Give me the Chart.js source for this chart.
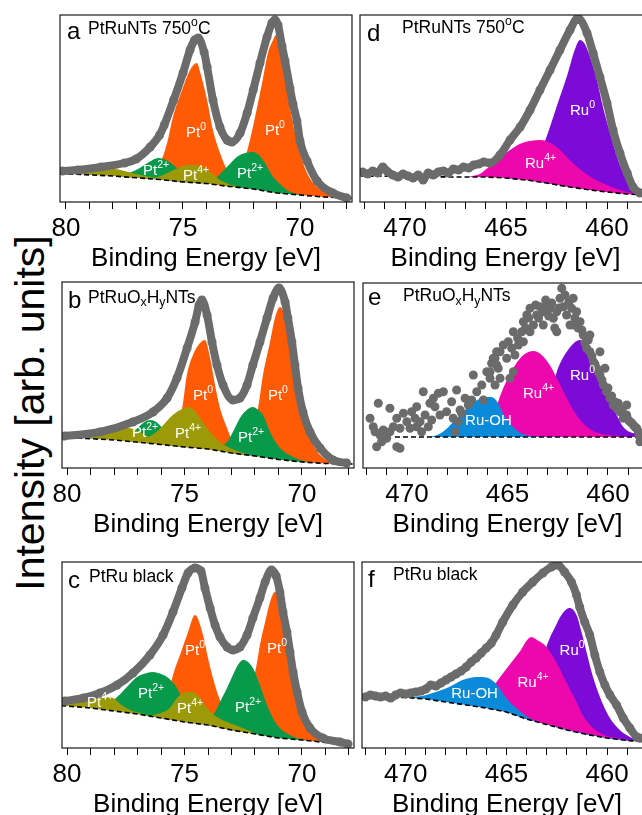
<!DOCTYPE html>
<html>
<head>
<meta charset="utf-8">
<script src="https://cdn.jsdelivr.net/npm/chart.js@4.4.1/dist/chart.umd.min.js"></script>
<style>
html, body { margin: 0; padding: 0; background: #fff; width: 642px; height: 815px; overflow: hidden; }
body { position: relative; }
canvas.panel { position: absolute; }
#ylab {
    position: absolute; left: 30px; top: 413px;
    transform: translate(-50%, -50%) rotate(-90deg);
    font: 41px "Liberation Sans", Arial, sans-serif; line-height: 1; white-space: nowrap; color: #000;
}
</style>
</head>
<body>
<div id="ylab">Intensity [arb. units]</div>
<canvas id="pa" class="panel"></canvas>
<canvas id="pb" class="panel"></canvas>
<canvas id="pc" class="panel"></canvas>
<canvas id="pd" class="panel"></canvas>
<canvas id="pe" class="panel"></canvas>
<canvas id="pf" class="panel"></canvas>
<script>
// ---- Pt 4f panels (binding energy eV, intensity) ----
const aEnv = [[80.15,31],[79.5,32],[78.5,35],[77.5,39],[77,43],[76.4,55],[76,67],[75.8,77],[75.4,102],[75,129],[74.7,152],[74.5,162],[74.35,164],[74.1,150],[73.97,135],[73.72,102],[73.42,75],[73.12,62],[72.91,60],[72.56,69],[72.26,89],[72.0,112],[71.71,139],[71.41,165],[71.2,179],[71.07,182],[70.94,177],[70.77,156],[70.64,141],[70.43,114],[70.3,98],[70.13,81],[70.0,61],[69.7,41],[69.27,21],[68.6,9],[68.0,4]];
const aBase = [[80.25,28.5],[78,26],[76,22.5],[75,20],[74,18.5],[73,15.5],[72,13],[71,9],[70,7],[69,5],[67.8,4]];
const aPt0a = [[77.5,26],[76.5,30],[76.0,38],[75.68,59],[75.43,85],[75.04,112],[74.7,132],[74.4,139],[74.27,130],[73.97,102],[73.72,72],[73.42,49],[73.12,32],[72.86,22],[72.4,16]];
const aPt0b = [[72.9,17],[72.5,32],[72.14,62],[71.92,85],[71.62,119],[71.37,149],[71.15,162],[71.03,167],[70.85,152],[70.64,125],[70.43,95],[70.21,69],[70.0,49],[69.7,29],[69.27,15],[68.6,7],[68.0,5]];
const aPt2a = [[77.6,27],[77.2,30],[76.85,34],[76.45,40],[76.05,44],[75.65,41],[75.25,34],[74.85,27],[74.4,22],[74.0,20]];
const aPt2b = [[73.8,19],[73.55,25],[73.12,35],[72.7,45],[72.35,49],[72.05,50],[71.8,48],[71.58,42],[71.3,31],[71.15,25],[70.85,18],[70.56,12],[70.2,8.5],[69.8,7]];
const aPt4a = [[80.2,31],[79.5,32],[79,33],[78.5,34],[78,33.5],[77.5,31],[77,28],[76.5,25.5],[76,23.5]];
const aPt4b = [[76.2,24],[75.8,27.5],[75.4,32],[75.0,36],[74.6,37],[74.27,36.5],[73.9,31],[73.42,22],[73.0,17.5],[72.6,15]];
const aLabels = [[74.87,65,'Pt','0'],[71.5,67,'Pt','0'],[76.71,27,'Pt','2+'],[75.0,22,'Pt','4+'],[72.69,24,'Pt','2+']];

const bEnv = [[80.1,32],[78.6,36],[77.2,46],[76.34,56],[75.74,70],[75.32,90],[74.89,120],[74.55,146],[74.38,163],[74.26,168],[74.04,153],[73.83,126],[73.62,103],[73.36,83],[72.94,68],[72.64,70],[72.34,83],[72.09,103],[71.79,126],[71.49,150],[71.23,170],[70.98,180],[70.72,166],[70.6,150],[70.43,126],[70.3,103],[70.17,80],[69.96,56],[69.66,36],[69.23,20],[68.68,8],[68.1,5]];
const bBase = [[80.25,31],[78,28],[76,23.5],[75,21],[74,19],[73,15],[72,12],[71,8.5],[70,6],[69,4.5],[67.8,4]];
const bPt0a = [[76.3,25],[75.6,35],[75.1,60],[74.9,93],[74.64,113],[74.34,125],[74.13,128],[73.91,110],[73.7,83],[73.49,60],[73.19,40],[72.94,26],[72.5,16],[72.1,12.5]];
const bPt0b = [[73.0,15.5],[72.5,24],[72.1,42],[71.87,60],[71.66,93],[71.36,126],[71.15,150],[70.94,161],[70.64,146],[70.43,116],[70.21,86],[70.0,60],[69.79,40],[69.45,20],[68.94,8],[68.26,5]];
const bPt2a = [[77.6,28],[77.3,33],[77.0,40],[76.7,46],[76.45,48],[76.2,46],[75.9,39],[75.6,31],[75.3,25],[75.0,22]];
const bPt2b = [[73.6,18],[73.19,26],[72.94,36],[72.64,50],[72.35,58],[72.09,61],[71.85,58],[71.66,53],[71.36,36],[71.15,27],[70.94,20],[70.38,11],[69.8,6.5],[69.3,5.2]];
const bPt4a = [[80.2,31.5],[79.5,33],[78.6,36],[77.9,39],[77.4,40],[77,37],[76.5,31],[76,26],[75.5,23]];
const bPt4b = [[76.8,27],[76.2,36],[75.9,43],[75.5,53],[75.1,59],[74.85,61],[74.6,58],[74.34,50],[73.9,36],[73.5,26],[73.06,20],[72.64,16],[72.2,13]];
const bLabels = [[74.64,68,'Pt','0'],[71.45,68,'Pt','0'],[77.23,31,'Pt','2+'],[75.4,30,'Pt','4+'],[72.72,26,'Pt','2+']];

const cEnv = [[80.1,47],[79.3,50],[78.6,55],[77.87,63],[77.19,75],[76.47,93],[75.91,113],[75.49,136],[75.11,160],[74.85,175],[74.55,180],[74.3,177],[74.13,160],[73.91,140],[73.7,123],[73.49,111],[73.19,101],[72.94,98],[72.64,101],[72.34,113],[72.09,130],[71.79,150],[71.57,166],[71.3,178],[71.1,172],[70.94,156],[70.81,136],[70.64,116],[70.51,96],[70.38,76],[70.21,56],[70.0,36],[69.66,20],[69.11,10],[68.38,6],[68.04,4]];
const cBase = [[80.25,42.5],[79,40],[78,37],[77,34],[76,30],[75,26],[74,23],[73,18],[72,14],[71,10],[70,8],[69,5.5],[67.8,4]];
const cPt0a = [[76.6,33],[76.0,40],[75.7,52],[75.49,73],[75.19,93],[74.89,113],[74.55,133],[74.21,113],[74.0,90],[73.79,70],[73.57,53],[73.28,36],[72.94,26],[72.5,19],[72,15]];
const cPt0b = [[73.2,19.5],[72.6,28],[72.2,55],[71.91,86],[71.79,103],[71.57,126],[71.36,146],[71.15,156],[70.94,146],[70.81,130],[70.6,103],[70.38,76],[70.17,53],[69.87,33],[69.53,18],[68.94,10],[68.26,6]];
const cPt2a = [[79.0,40.5],[78.6,42],[78.2,45],[77.87,51],[77.45,61],[77.02,71],[76.6,75],[76.34,76],[76.0,74],[75.74,71],[75.32,60],[75.0,45],[74.6,34],[74.2,27],[73.8,24]];
const cPt2b = [[74.1,25],[73.7,36],[73.49,46],[73.19,60],[72.94,73],[72.7,84],[72.51,88],[72.3,86],[72.09,80],[71.79,63],[71.49,43],[71.06,23],[70.51,13],[69.79,8],[69.2,6.5]];
const cPt4a = [[80.2,44],[79.8,46],[79.32,48],[78.9,50],[78.47,51],[78.04,50],[77.74,44],[77.32,38],[76.89,35],[76.4,32],[76,30.5]];
const cPt4b = [[76.4,32.5],[76.0,35],[75.62,40],[75.32,50],[75.05,55],[74.77,56],[74.5,54],[74.34,50],[74.04,40],[73.62,31],[73.19,26],[72.64,21],[72.1,16]];
const cLabels = [[79.15,41,'Pt','4+'],[76.98,50,'Pt','2+'],[74.98,93,'Pt','0'],[75.32,35,'Pt','4+'],[72.85,36,'Pt','2+'],[71.49,95,'Pt','0']];

// ---- Ru 3p panels ----
const dEnv = [[472.1,30],[471.85,28],[471.6,31],[471.35,29],[471.1,35],[470.85,30],[470.6,27],[470.35,25],[470.1,28],[469.85,26],[469.6,24],[469.35,27],[469.1,22],[468.85,29],[468.6,27],[468.35,30],[468.1,31],[467.85,29],[467.6,33],[467.35,32],[467.1,35],[466.85,34],[466.6,37],[466.35,38],[466.1,40],[465.79,39],[465.3,47],[464.8,62],[464.3,75],[463.81,92],[463.32,112],[462.82,132],[462.33,152],[461.83,172],[461.44,184],[460.99,169],[460.69,149],[460.35,125],[460.0,99],[459.7,72],[459.36,49],[459.0,29],[458.71,15],[458.37,9]];
const dBase = [[472.2,26],[467.5,25],[466,25],[465,24],[464,22],[463,19],[462,15.5],[461,12.5],[460,10],[459,8],[457.8,6.5]];
const dRu0 = [[465.0,24.5],[464.3,30],[463.7,40],[463.3,50],[463.05,62],[462.5,95],[461.95,128],[461.6,152],[461.34,162],[461.1,158],[460.84,145],[460.5,122],[460.2,95],[459.85,69],[459.5,45],[459.2,29],[458.86,15],[458.5,10],[458.2,8]];
const dRu4 = [[466.8,25.5],[466.3,28],[465.8,36],[465.3,44],[464.8,52],[464.2,59],[463.3,62],[462.5,55],[461.7,39],[460.8,25],[460,17],[459.2,11],[458.4,8]];
const dLabels = [[461.83,87,'Ru','0'],[464.06,34,'Ru','4+']];

const eDots = [[471.84,49.7],[471.68,41.3],[471.59,36.3],[471.51,21.3],[471.43,64.7],[471.34,33],[471.26,26.3],[471.18,38],[471.01,29.7],[470.85,36.3],[470.85,59.7],[470.68,41.3],[470.51,21.3],[470.51,49.7],[470.35,19.7],[470.35,39.7],[470.18,54.7],[470.01,46.3],[469.85,39.7],[469.77,56.3],[469.6,49.7],[469.52,41.3],[469.52,61.3],[469.35,46.3],[469.27,36.3],[469.19,76.3],[469.1,53],[468.94,41.3],[468.86,64.7],[468.77,48],[468.69,69.7],[468.61,61.3],[468.44,74.7],[468.36,53],[468.19,76.3],[468.03,56.3],[467.78,66.3],[467.7,49.7],[467.61,36.3],[467.53,78],[467.45,46.3],[467.36,58],[467.28,54.7],[467.11,69.7],[466.95,63],[466.78,68],[466.7,93],[466.53,76.3],[466.28,83],[466.2,68],[466.03,96.3],[465.87,89.7],[465.87,96.3],[465.79,104.7],[465.71,109.7],[465.62,109.7],[465.62,83],[465.54,116.3],[465.54,103],[465.46,99.7],[465.37,116.3],[465.37,89.7],[465.21,123],[465.04,109.7],[464.96,126.3],[464.88,89.7],[464.79,119.7],[464.71,96.3],[464.71,136.3],[464.63,113],[464.5,130],[464.46,123],[464.29,136.3],[464.21,146.3],[464.21,126.3],[464.1,140],[464.04,153],[463.95,150],[463.88,159.7],[463.88,136.3],[463.71,143],[463.6,163],[463.55,153],[463.45,150],[463.38,161.3],[463.22,156.3],[463.22,143],[463.1,168],[463.05,163],[462.95,152],[462.89,159.7],[462.8,165],[462.72,149.7],[462.65,140],[462.55,156.3],[462.55,136.3],[462.45,160],[462.39,169.7],[462.3,179.7],[462.22,161.3],[462.14,173],[462.06,153],[461.95,166],[461.89,143],[461.81,159.7],[461.73,169.7],[461.73,143],[461.65,150],[461.56,156.3],[461.48,140],[461.39,146.3],[461.3,138],[461.23,133],[461.15,125],[461.06,119.7],[460.98,128],[460.9,116.3],[460.9,133],[460.8,112],[460.73,106.3],[460.65,104],[460.56,99.7],[460.48,96],[460.4,93],[460.4,116.3],[460.3,88],[460.23,83],[460.15,99.7],[460.07,76.3],[460.0,80],[459.9,69.7],[459.82,72],[459.74,63],[459.65,66],[459.57,59.7],[459.49,64.7],[459.4,56.3],[459.3,58],[459.24,49.7],[459.15,52],[459.07,53],[459.07,63],[458.98,48],[458.91,46.3],[458.82,45],[458.74,43],[458.65,41],[458.57,39.7],[458.49,36.3],[458.45,32],[458.41,26.3]];
const eBase = [[470.6,31],[457.8,31]];
const eRu0 = [[464.2,31.5],[463.6,36],[463.1,55],[462.8,76],[462.55,96],[462.3,108],[462.06,116],[461.64,126],[461.39,128],[461.06,121],[460.73,103],[460.4,86],[460.07,73],[459.74,60],[459.49,50],[459.24,41],[458.91,36],[458.41,34],[458.0,32.5]];
const eRu4 = [[466.6,32],[466.1,38],[465.6,58],[465.4,70],[465.21,80],[464.71,100],[464.21,113],[463.71,117],[463.3,113],[462.9,103],[462.5,88],[462.1,72],[461.7,57],[461.3,46],[460.9,39],[460.5,35],[460,33],[459.5,32],[459,31.5],[458.0,31.2]];
const eRuOH = [[468.9,31.2],[468.5,33],[468.1,38],[467.7,46],[467.3,54],[466.9,62],[466.5,68],[466.1,71],[465.8,71],[465.5,66],[465.2,54],[464.9,45],[464.5,37],[464.1,33],[463.6,31.5],[462,31.1]];
const eLabels = [[467.11,43,'Ru-OH',''],[464.23,70,'Ru','4+'],[461.89,88,'Ru','0']];

const fEnv = [[472.0,51],[471.75,53],[471.5,52],[471.25,51],[471.0,52],[470.75,50],[470.5,53],[470.25,55],[470.0,54],[469.75,55],[469.5,56],[469.25,57],[469.0,59],[468.75,63],[468.5,62],[468.25,65],[468.0,68],[467.75,71],[467.5,74],[467.25,77],[467.0,81],[466.75,86],[466.5,90],[466.25,95],[466.0,100],[465.75,105],[465.51,113],[465.18,126],[464.68,143],[464.19,156],[463.69,166],[463.19,175],[462.77,181],[462.44,183],[462.11,176],[461.77,166],[461.52,153],[461.36,141],[461.11,126],[460.86,113],[460.61,93],[460.36,76],[460.11,63],[459.86,53],[459.53,43],[459.2,30],[458.87,20],[458.53,11],[458.37,10]];
const fBase = [[472.2,52],[471,51],[470,50.5],[469,49],[468,46],[467,43],[466,40],[465,36],[464,29],[463,23.5],[462,18],[461,13.5],[460,10],[459,7.5],[457.8,5.5]];
const fRu0 = [[464.8,34.5],[464.2,38],[463.7,52],[463.4,70],[463.03,100],[462.53,123],[462.2,135],[461.86,140],[461.52,133],[461.27,116],[461.02,96],[460.77,76],[460.52,60],[460.19,43],[459.86,30],[459.37,18],[458.87,11],[458.45,8],[458.0,6.5]];
const fRu4 = [[467.0,43.5],[466.6,46],[466.2,50],[465.8,57],[465.35,70],[464.85,83],[464.35,96],[463.77,111],[463.4,107],[463.1,103],[462.53,86],[462.03,66],[461.52,46],[461.19,32],[460.8,22],[460.52,17],[460,12],[459.2,9],[458.4,6.5]];
const fRuOH = [[469.8,50.5],[469.2,52],[468.67,55],[467.84,61],[467.18,68],[466.7,70.5],[466.35,71],[466.0,70.5],[465.6,66],[465.35,60],[465.01,50],[464.52,40],[463.85,30],[463.19,24.5],[462.5,21.5],[461.5,16.2],[460.5,12.3],[459.5,9.2],[458.0,6.1]];
const fLabels = [[467.74,50,'Ru-OH',''],[464.45,61,'Ru','4+'],[462.36,93,'Ru','0']];

// ---- layout ----
const FONT = '"Liberation Sans", Arial, sans-serif';
const PAD = 30;
const AXIS_H = 72;
const GRAY = '#6b6b6b';
const ORANGE = '#ff5a05', GREEN = '#08994a', OLIVE = '#9c9a08';
const PURPLE = '#7c0bd8', MAGENTA = '#ec08ad', BLUE = '#0a8ad8';

Chart.defaults.font.family = FONT;

const pts = arr => arr.map(([x, y]) => ({x, y}));

function drawRich(ctx, x, y, parts, size, color) {
    ctx.fillStyle = color;
    ctx.textAlign = 'left';
    ctx.textBaseline = 'alphabetic';
    for (const [text, mode] of parts) {
        let s = size, dy = 0;
        if (mode === 'sup') { s = size * 0.7; dy = -size * 0.45; }
        if (mode === 'sub') { s = size * 0.7; dy = size * 0.2; }
        ctx.font = s + 'px ' + FONT;
        ctx.fillText(text, x, y + dy);
        x += ctx.measureText(text).width;
    }
}

const decor = {
    id: 'decor',
    afterDatasetsDraw(chart, args, opts) {
        const {ctx, chartArea: a, scales: {x, y}} = chart;
        ctx.save();
        ctx.strokeStyle = '#1a1a1a';
        ctx.lineWidth = 1.2;
        ctx.strokeRect(a.left, a.top, a.right - a.left, a.bottom - a.top);
        drawRich(ctx, a.left + opts.head.letterAt[0], a.top + opts.head.letterAt[1], [[opts.head.letter, '']], 24, '#000');
        drawRich(ctx, a.left + opts.head.titleAt[0], a.top + opts.head.titleAt[1], opts.head.title, 17.5, '#000');
        for (const [ev, h, base, sup] of opts.labels) {
            drawRich(ctx, x.getPixelForValue(ev), y.getPixelForValue(h), [[base, ''], [sup, 'sup']], 15, '#fff');
        }
        ctx.restore();
    }
};

function panel(id, frame, xLeft, xRight, yMax, env, base, peaks, labels, head, scatter) {
    const cv = document.getElementById(id);
    cv.width = frame.right - frame.left + 2 * PAD;
    cv.height = frame.bottom - frame.top + PAD + AXIS_H;
    cv.style.left = (frame.left - PAD) + 'px';
    cv.style.top = (frame.top - PAD) + 'px';

    const datasets = [
        {data: pts(env), order: 0, borderColor: GRAY, backgroundColor: GRAY, borderWidth: 8,
         showLine: !scatter, pointRadius: 4.5, pointBorderWidth: 0, fill: false,
         cubicInterpolationMode: 'monotone'},
        {data: pts(base), order: 1, borderColor: '#000', borderWidth: 1.6, borderDash: [5, 3],
         pointRadius: 0, fill: false}
    ];
    peaks.forEach((p, i) => {
        datasets.push({data: pts(p[0]), order: 2 + peaks.length - 1 - i, backgroundColor: p[1],
            borderColor: 'rgba(0,0,0,0)', borderWidth: 1, pointRadius: 0, fill: 1,
            cubicInterpolationMode: 'monotone'});
    });

    new Chart(cv, {
        type: 'line',
        data: {datasets},
        options: {
            responsive: false,
            animation: false,
            devicePixelRatio: 1,
            events: [],
            layout: {padding: {left: PAD, right: PAD, top: PAD, bottom: 0}},
            plugins: {legend: {display: false}, tooltip: {enabled: false}, decor: {labels, head}},
            scales: {
                x: {
                    type: 'linear', reverse: true, min: xRight, max: xLeft,
                    afterFit: s => { s.height = AXIS_H; },
                    grid: {drawOnChartArea: false, drawTicks: true, tickLength: 7, tickColor: '#000', tickWidth: 1},
                    border: {display: false},
                    ticks: {stepSize: 1, includeBounds: false, autoSkip: false, maxRotation: 0, padding: 4,
                            color: '#000', font: {size: 26},
                            callback: v => (v % 5 === 0 ? String(v) : '')},
                    title: {display: true, text: 'Binding Energy [eV]', color: '#000', font: {size: 26}, padding: 0}
                },
                y: {display: false, min: 0, max: yMax}
            }
        },
        plugins: [decor]
    });
}

const tNTs = [['PtRuNTs 750', ''], ['o', 'sup'], ['C', '']];
const tOxHy = [['PtRuO', ''], ['x', 'sub'], ['H', ''], ['y', 'sub'], ['NTs', '']];
const tBlack = [['PtRu black', '']];

panel('pa', {left: 60, top: 15, right: 352, bottom: 202}, 80.256, 67.778, 187, aEnv, aBase,
      [[aPt0a, ORANGE], [aPt0b, ORANGE], [aPt2a, GREEN], [aPt2b, GREEN], [aPt4a, OLIVE], [aPt4b, OLIVE]],
      aLabels, {letter: 'a', letterAt: [7, 24], title: tNTs, titleAt: [28, 19.3]}, false);
panel('pb', {left: 62, top: 282, right: 354, bottom: 468}, 80.213, 67.787, 186, bEnv, bBase,
      [[bPt0a, ORANGE], [bPt0b, ORANGE], [bPt2a, GREEN], [bPt2b, GREEN], [bPt4a, OLIVE], [bPt4b, OLIVE]],
      bLabels, {letter: 'b', letterAt: [6, 26], title: tOxHy, titleAt: [26, 20.7]}, false);
panel('pc', {left: 62, top: 562, right: 354, bottom: 748}, 80.213, 67.787, 186, cEnv, cBase,
      [[cPt0a, ORANGE], [cPt0b, ORANGE], [cPt2a, GREEN], [cPt2b, GREEN], [cPt4a, OLIVE], [cPt4b, OLIVE]],
      cLabels, {letter: 'c', letterAt: [6, 26.3], title: tBlack, titleAt: [27, 20.3]}, false);
panel('pd', {left: 360, top: 15, right: 651, bottom: 202}, 472.228, 457.822, 187, dEnv, dBase,
      [[dRu0, PURPLE], [dRu4, MAGENTA]],
      dLabels, {letter: 'd', letterAt: [7, 25.7], title: tNTs, titleAt: [42, 18.3]}, false);
panel('pe', {left: 363, top: 283, right: 652, bottom: 468}, 472.19, 457.81, 185, eDots, eBase,
      [[eRu0, PURPLE], [eRu4, MAGENTA], [eRuOH, BLUE]],
      eLabels, {letter: 'e', letterAt: [5, 22], title: tOxHy, titleAt: [40, 18]}, true);
panel('pf', {left: 362, top: 562, right: 652, bottom: 748}, 472.17, 457.77, 186, fEnv, fBase,
      [[fRu0, PURPLE], [fRu4, MAGENTA], [fRuOH, BLUE]],
      fLabels, {letter: 'f', letterAt: [6, 24.7], title: tBlack, titleAt: [31, 18]}, false);
</script>
</body>
</html>
